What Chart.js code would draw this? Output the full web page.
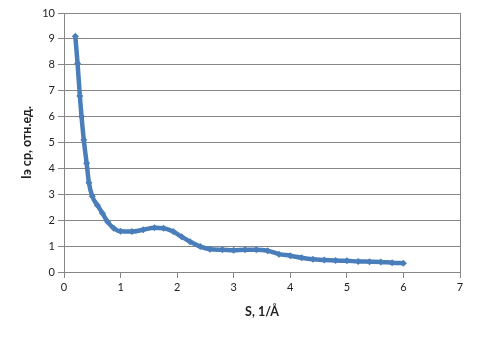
<!DOCTYPE html>
<html>
<head>
<meta charset="utf-8">
<script src="https://cdn.jsdelivr.net/npm/chart.js@4"></script>
<style>
  html, body { margin: 0; padding: 0; background: #fff; }
  #wrap { width: 480px; height: 339px; }
</style>
</head>
<body>
<div id="wrap"><canvas id="chart"></canvas></div>
<script>
// S values (1/Å) and averaged intensity
const sValues = [0.20, 0.24, 0.28, 0.31, 0.35, 0.40, 0.44, 0.50, 0.59, 0.68, 0.77, 0.88,
  1.0, 1.2, 1.4, 1.6, 1.76, 1.93, 2.08, 2.23, 2.41, 2.58, 2.8, 3.0, 3.2, 3.4, 3.6, 3.8,
  4.0, 4.2, 4.4, 4.6, 4.8, 5.0, 5.2, 5.4, 5.6, 5.8, 6.0];
const iValues = [9.1, 8.05, 6.8, 6.0, 5.1, 4.2, 3.45, 2.92, 2.58, 2.27, 1.94, 1.69,
  1.57, 1.56, 1.63, 1.71, 1.69, 1.56, 1.36, 1.17, 0.98, 0.88, 0.86, 0.84, 0.86, 0.86, 0.82, 0.69,
  0.63, 0.55, 0.49, 0.46, 0.44, 0.43, 0.41, 0.40, 0.39, 0.36, 0.34];

const xTitle = "S, 1/Å";
const yTitle = "Iэ ср, отн.ед.";

const gridGray = "#868686";
const lineBlue = "#4a7ebb";

const points = sValues.map((s, i) => ({ x: s, y: iValues[i] }));

new Chart(document.getElementById("chart"), {
  type: "scatter",
  data: {
    datasets: [{
      data: points,
      showLine: true,
      borderColor: lineBlue,
      backgroundColor: lineBlue,
      borderWidth: 4.5,
      cubicInterpolationMode: "monotone",
      pointStyle: "rectRot",
      pointRadius: 3.5,
      pointBorderWidth: 0,
    }],
  },
  options: {
    responsive: true,
    maintainAspectRatio: false,
    animation: false,
    layout: { padding: { top: 13, right: 20, left: 0, bottom: 0 } },
    plugins: {
      legend: { display: false },
      tooltip: { enabled: false },
    },
    scales: {
      x: {
        type: "linear",
        min: 0,
        max: 7,
        ticks: {
          stepSize: 1,
          padding: 3,
          color: "#222",
          font: { family: "Lato", size: 11 },
        },
        grid: {
          color: (ctx) => (ctx.tick && ctx.tick.value === 7 ? gridGray : "rgba(0,0,0,0)"),
          tickColor: gridGray,
          tickLength: 6,
        },
        border: { color: gridGray },
        title: {
          display: true,
          text: xTitle,
          color: "#222",
          font: { family: "Lato", size: 12.5, weight: "bold" },
          padding: { top: 0, bottom: 20 },
        },
        afterFit: (scale) => { scale.height = 67; },
      },
      y: {
        min: 0,
        max: 10,
        ticks: {
          stepSize: 1,
          padding: 3,
          color: "#222",
          font: { family: "Lato", size: 11 },
        },
        grid: {
          color: gridGray,
          tickColor: gridGray,
          tickLength: 6,
        },
        border: { color: gridGray },
        title: {
          display: true,
          text: yTitle,
          color: "#222",
          font: { family: "Lato", size: 12.5, weight: "bold" },
          padding: { top: 19, bottom: 0 },
        },
        afterFit: (scale) => { scale.width = 64; },
      },
    },
  },
});
</script>
</body>
</html>
